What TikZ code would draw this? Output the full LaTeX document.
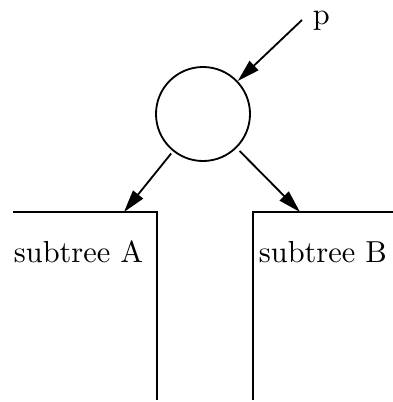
\documentclass[tikz,border=0pt]{standalone}
\usepackage{fontspec}
\usepackage{tikz}
\usetikzlibrary{arrows.meta,positioning}
\newfontfamily\lmten{lmroman10-regular.otf}

\begin{document}
\begin{tikzpicture}[x=0.025cm, y=-0.025cm, line width=1.3pt,
    ptr/.style={-{Triangle[length=16pt,width=9pt]}},
    lbl/.style={inner sep=0pt, anchor=base west, font=\lmten\fontsize{21.6}{26}\selectfont}]
  \useasboundingbox (0,0) rectangle (393,402);

  %% Root node and pointer p
  \node[draw, circle, minimum size=2.35cm, inner sep=0pt] (root) at (203,114) {};
  \node[lbl] (plabel) at (312,24) {p};
  \coordinate (ptail) at (302,20);
  \draw[ptr] (ptail) -- (root);

  %% Subtree A
  \coordinate (atop) at (13,212);
  \coordinate (acorner) at (157,212);
  \coordinate (abottom) at (157,400);
  \draw (atop) -- (acorner) -- (abottom);
  \node[lbl] (subA) at (13,262) {subtree A};

  %% Subtree B
  \coordinate (btop) at (393,212);
  \coordinate (bcorner) at (253,212);
  \coordinate (bbottom) at (253,400);
  \draw (btop) -- (bcorner) -- (bbottom);
  \node[lbl] (subB) at (258,262) {subtree B};

  %% Child pointers
  \coordinate (tipA) at (124,212);
  \coordinate (tipB) at (300,212);
  \draw[ptr, shorten <=2pt] (root) -- (tipA);
  \draw[ptr, shorten <=3pt] (root) -- (tipB);
\end{tikzpicture}
\end{document}
